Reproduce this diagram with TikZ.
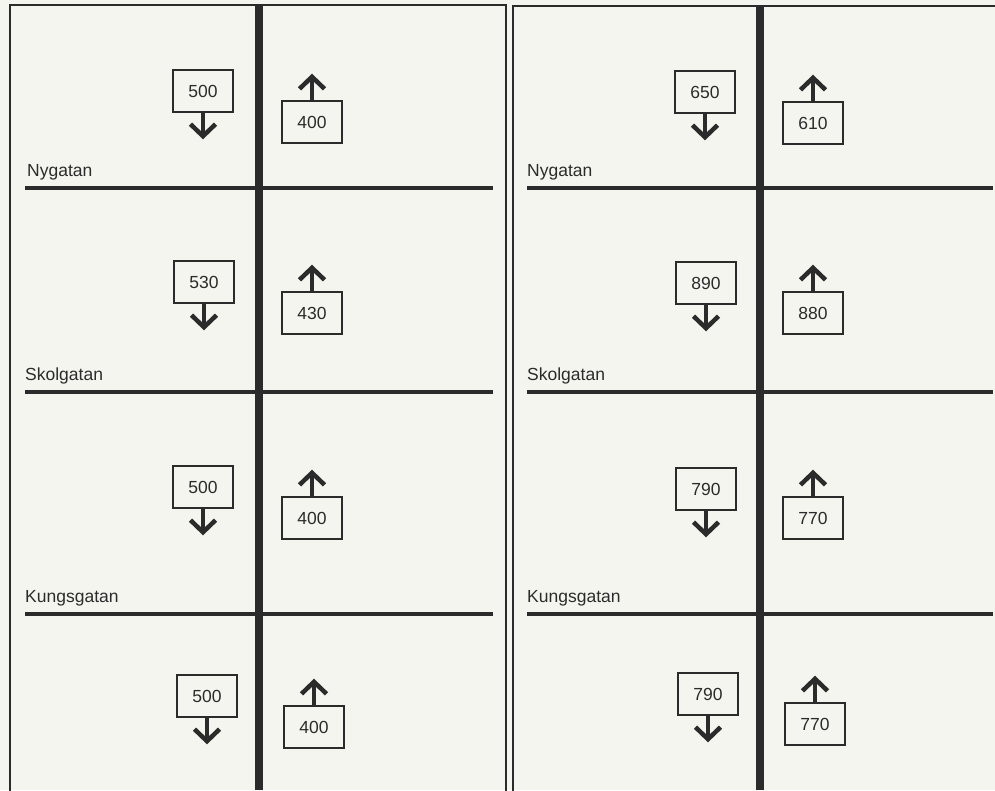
\documentclass[tikz,border=0pt]{standalone}
\usepackage{fontspec}
\setmainfont{Liberation Sans}
\usetikzlibrary{positioning,arrows.meta}
\definecolor{ink}{HTML}{2B2B2B}
\definecolor{paper}{HTML}{F5F5F0}
\begin{document}
\begin{tikzpicture}[x=1pt, y=-1pt, node distance={26pt}, ink,
    count/.style = {draw, line width=2.6pt, fill=paper, inner sep=0pt, minimum width=60pt, minimum height=42pt, font=\fontsize{17.5}{20}\selectfont},
    street/.style = {anchor=base west, inner sep=0pt, font=\fontsize{17.5}{20}\selectfont},
    road/.style = {line width=4pt},
    mainroad/.style = {line width=8pt},
    dir/.style = {line width=4pt, -{Straight Barb[length=12pt, width=25pt, line width=4.5pt]}}]
        \useasboundingbox (0,0) rectangle (995,790);
        \fill[paper] (0,0) rectangle (995,790);
        \clip (0,0) rectangle (995,790);

        % Frames
        \draw[line width=2.4pt] (10,5) rectangle (506,800);
        \draw[line width=2.4pt] (513,6) rectangle (1000,800);

        % Streets
        \draw[road] (25,188) -- (493,188);
        \draw[road] (25,392) -- (493,392);
        \draw[road] (25,614) -- (493,614);
        \draw[road] (527,188) -- (993,188);
        \draw[road] (527,392) -- (993,392);
        \draw[road] (527,614) -- (993,614);
        \draw[mainroad] (259,5) -- (259,790);
        \draw[mainroad] (760,6) -- (760,790);

        % Street names
        \node[street] (ny1) at (27,176) {Nygatan};
        \node[street] (sk1) at (25,380) {Skolgatan};
        \node[street] (ku1) at (25,602) {Kungsgatan};
        \node[street] (ny2) at (527,176) {Nygatan};
        \node[street] (sk2) at (527,380) {Skolgatan};
        \node[street] (ku2) at (527,602) {Kungsgatan};

        % Counts, left
        \node[count] (l1d) at (203,91)  {500};
        \node[count] (l1u) at (312,122) {400};
        \node[count] (l2d) at (204,282) {530};
        \node[count] (l2u) at (312,313) {430};
        \node[count] (l3d) at (203,487) {500};
        \node[count] (l3u) at (312,518) {400};
        \node[count] (l4d) at (207,696) {500};
        \node[count] (l4u) at (314,727) {400};

        % Counts, right
        \node[count] (r1d) at (705,92)  {650};
        \node[count] (r1u) at (813,123) {610};
        \node[count] (r2d) at (706,283) {890};
        \node[count] (r2u) at (813,313) {880};
        \node[count] (r3d) at (706,489) {790};
        \node[count] (r3u) at (813,518) {770};
        \node[count] (r4d) at (708,694) {790};
        \node[count] (r4u) at (815,724) {770};

        % Arrow tips
        \coordinate[below=of l1d] (l1dt);
        \coordinate[above=of l1u] (l1ut);
        \coordinate[below=of l2d] (l2dt);
        \coordinate[above=of l2u] (l2ut);
        \coordinate[below=of l3d] (l3dt);
        \coordinate[above=of l3u] (l3ut);
        \coordinate[below=of l4d] (l4dt);
        \coordinate[above=of l4u] (l4ut);
        \coordinate[below=of r1d] (r1dt);
        \coordinate[above=of r1u] (r1ut);
        \coordinate[below=of r2d] (r2dt);
        \coordinate[above=of r2u] (r2ut);
        \coordinate[below=of r3d] (r3dt);
        \coordinate[above=of r3u] (r3ut);
        \coordinate[below=of r4d] (r4dt);
        \coordinate[above=of r4u] (r4ut);

        % Arrows
        \draw[dir] (l1d) -- (l1dt);
        \draw[dir] (l1u) -- (l1ut);
        \draw[dir] (l2d) -- (l2dt);
        \draw[dir] (l2u) -- (l2ut);
        \draw[dir] (l3d) -- (l3dt);
        \draw[dir] (l3u) -- (l3ut);
        \draw[dir] (l4d) -- (l4dt);
        \draw[dir] (l4u) -- (l4ut);
        \draw[dir] (r1d) -- (r1dt);
        \draw[dir] (r1u) -- (r1ut);
        \draw[dir] (r2d) -- (r2dt);
        \draw[dir] (r2u) -- (r2ut);
        \draw[dir] (r3d) -- (r3dt);
        \draw[dir] (r3u) -- (r3ut);
        \draw[dir] (r4d) -- (r4dt);
        \draw[dir] (r4u) -- (r4ut);
      \end{tikzpicture}
\end{document}
